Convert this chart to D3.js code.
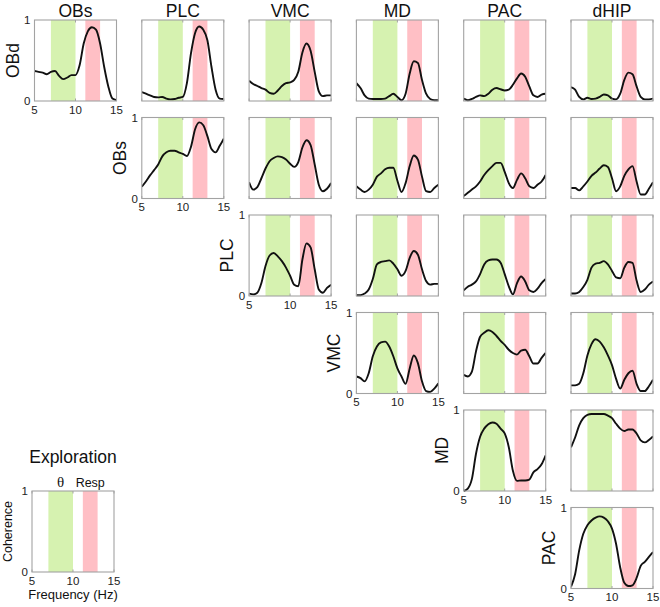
<!DOCTYPE html>
<html>
<head>
<meta charset="utf-8">
<script src="https://cdn.jsdelivr.net/npm/d3@7"></script>
<style>
  html, body { margin: 0; padding: 0; background: #fff; }
  svg { display: block; font-family: "Liberation Sans", Arial, sans-serif; }
</style>
</head>
<body>
<svg id="chart" width="660" height="607"></svg>
<script>
// ---------- data ----------
const colNames = ["OBs", "PLC", "VMC", "MD", "PAC", "dHIP"];
const rowNames = ["OBd", "OBs", "PLC", "VMC", "MD", "PAC"];
const freqs = [5, 5.5, 6, 6.5, 7, 7.5, 8, 8.5, 9, 9.5, 10, 10.5, 11, 11.5, 12, 12.5, 13, 13.5, 14, 14.5, 15];
const xTicks = [5, 10, 15];
const yTicks = [0, 1];
const thetaBand = [7, 10];
const respBand = [11.2, 13];

// coherence curves, row_column
const OBd_OBs  = [0.37,0.36,0.35,0.33,0.36,0.37,0.31,0.27,0.29,0.32,0.32,0.44,0.71,0.86,0.91,0.88,0.71,0.42,0.18,0.03,0.01];
const OBd_PLC  = [0.11,0.09,0.07,0.05,0.045,0.05,0.03,0.02,0.025,0.04,0.05,0.22,0.59,0.84,0.92,0.88,0.75,0.42,0.14,0.03,0.025];
const OBd_VMC  = [0.25,0.21,0.185,0.16,0.14,0.10,0.09,0.13,0.185,0.22,0.23,0.26,0.36,0.60,0.71,0.62,0.36,0.12,0.06,0.07,0.07];
const OBd_MD   = [0.22,0.16,0.07,0.03,0.025,0.025,0.025,0.03,0.06,0.09,0.05,0.01,0.09,0.34,0.49,0.47,0.26,0.09,0.025,0.01,0.01];
const OBd_PAC  = [0.03,0.01,0.025,0.05,0.07,0.06,0.09,0.14,0.16,0.145,0.13,0.14,0.20,0.28,0.34,0.30,0.18,0.07,0.05,0.08,0.09];
const OBd_dHIP = [0.17,0.14,0.05,0.02,0.04,0.025,0.03,0.05,0.08,0.07,0.03,0.02,0.09,0.26,0.35,0.33,0.18,0.05,0.02,0.02,0.03];

const OBs_PLC  = [0.145,0.21,0.285,0.35,0.42,0.52,0.57,0.59,0.59,0.57,0.55,0.525,0.64,0.855,0.94,0.905,0.77,0.61,0.57,0.65,0.74];
const OBs_VMC  = [0.20,0.11,0.14,0.25,0.37,0.46,0.50,0.52,0.51,0.48,0.43,0.39,0.45,0.63,0.72,0.66,0.42,0.17,0.09,0.12,0.19];
const OBs_MD   = [0.15,0.11,0.08,0.11,0.17,0.27,0.31,0.36,0.38,0.38,0.22,0.08,0.19,0.40,0.53,0.48,0.27,0.09,0.08,0.13,0.17];
const OBs_PAC  = [0.03,0.07,0.11,0.15,0.21,0.29,0.35,0.40,0.44,0.44,0.33,0.19,0.13,0.23,0.31,0.25,0.15,0.13,0.17,0.21,0.29];
const OBs_dHIP = [0.13,0.13,0.10,0.15,0.21,0.28,0.32,0.37,0.41,0.39,0.25,0.09,0.15,0.28,0.36,0.40,0.21,0.05,0.05,0.12,0.20];

const PLC_VMC  = [0.03,0.02,0.04,0.16,0.37,0.50,0.53,0.49,0.43,0.35,0.25,0.14,0.12,0.45,0.65,0.60,0.33,0.08,0.04,0.10,0.14];
const PLC_MD   = [0.01,0.01,0.03,0.08,0.21,0.39,0.42,0.43,0.44,0.40,0.33,0.25,0.31,0.47,0.555,0.51,0.33,0.185,0.14,0.15,0.15];
const PLC_PAC  = [0.07,0.115,0.14,0.18,0.27,0.39,0.44,0.45,0.45,0.41,0.27,0.12,0.02,0.16,0.24,0.18,0.07,0.05,0.09,0.16,0.21];
const PLC_dHIP = [0.03,0.03,0.05,0.11,0.20,0.35,0.40,0.41,0.43,0.39,0.31,0.23,0.22,0.35,0.42,0.41,0.19,0.05,0.08,0.14,0.18];

const VMC_MD   = [0.21,0.19,0.15,0.25,0.46,0.58,0.63,0.64,0.58,0.46,0.31,0.21,0.12,0.31,0.47,0.375,0.15,0.03,0.02,0.06,0.125];
const VMC_PAC  = [0.23,0.21,0.27,0.52,0.70,0.75,0.78,0.76,0.71,0.65,0.60,0.54,0.50,0.48,0.53,0.54,0.46,0.37,0.37,0.44,0.50];
const VMC_dHIP = [0.10,0.10,0.12,0.25,0.47,0.61,0.67,0.64,0.57,0.47,0.35,0.18,0.06,0.17,0.25,0.28,0.12,0.03,0.03,0.09,0.17];

const MD_PAC   = [0.00,0.03,0.15,0.46,0.67,0.77,0.825,0.846,0.83,0.77,0.71,0.54,0.25,0.125,0.13,0.13,0.14,0.23,0.27,0.33,0.44];
const MD_dHIP  = [0.54,0.66,0.81,0.90,0.94,0.95,0.95,0.95,0.95,0.93,0.90,0.83,0.77,0.74,0.76,0.76,0.71,0.625,0.60,0.63,0.675];

const PAC_dHIP = [0.02,0.175,0.47,0.675,0.78,0.84,0.875,0.89,0.875,0.83,0.74,0.55,0.26,0.07,0.03,0.04,0.13,0.28,0.33,0.39,0.45];

const curves = {
  OBd: [OBd_OBs, OBd_PLC, OBd_VMC, OBd_MD, OBd_PAC, OBd_dHIP],
  OBs: [null, OBs_PLC, OBs_VMC, OBs_MD, OBs_PAC, OBs_dHIP],
  PLC: [null, null, PLC_VMC, PLC_MD, PLC_PAC, PLC_dHIP],
  VMC: [null, null, null, VMC_MD, VMC_PAC, VMC_dHIP],
  MD:  [null, null, null, null, MD_PAC, MD_dHIP],
  PAC: [null, null, null, null, null, PAC_dHIP]
};

// ---------- layout ----------
const W = 82, H = 81;
const colX = d3.scalePoint().domain(colNames).range([34.5, 571]);
const rowY = d3.scalePoint().domain(rowNames).range([20, 507.5]);
const GREEN = "#d6f2b0", PINK = "#ffbfc5", BORDER = "#a3a3a3";
const FONT = '"Liberation Sans", Arial, sans-serif';

const svg = d3.select("#chart");
let clipId = 0;

function panel(left, top, data, showTicks) {
  const x = d3.scaleLinear().domain([5, 15]).range([left, left + W]);
  const y = d3.scaleLinear().domain([0, 1]).range([top + H, top]);
  const g = svg.append("g");
  g.append("rect").attr("x", left).attr("y", top).attr("width", W).attr("height", H).attr("fill", "#fff");
  g.append("rect").attr("x", x(thetaBand[0])).attr("y", top)
    .attr("width", x(thetaBand[1]) - x(thetaBand[0])).attr("height", H).attr("fill", GREEN);
  g.append("rect").attr("x", x(respBand[0])).attr("y", top)
    .attr("width", x(respBand[1]) - x(respBand[0])).attr("height", H).attr("fill", PINK);
  if (data) {
    const id = "clip" + (clipId++);
    svg.append("clipPath").attr("id", id).append("rect")
      .attr("x", left).attr("y", top - 1).attr("width", W).attr("height", H + 2);
    const line = d3.line().x((d, i) => x(freqs[i])).y(d => y(d)).curve(d3.curveMonotoneX);
    g.append("path").datum(data).attr("d", line).attr("clip-path", `url(#${id})`)
      .attr("fill", "none").attr("stroke", "#111").attr("stroke-width", 1.9)
      .attr("stroke-linejoin", "round");
  }
  // inward tick marks
  xTicks.forEach(t => {
    g.append("line").attr("x1", x(t)).attr("x2", x(t)).attr("y1", top + H).attr("y2", top + H - 2.5)
      .attr("stroke", BORDER).attr("stroke-width", 1);
    g.append("line").attr("x1", x(t)).attr("x2", x(t)).attr("y1", top).attr("y2", top + 2.5)
      .attr("stroke", BORDER).attr("stroke-width", 1);
  });
  g.append("rect").attr("x", left).attr("y", top).attr("width", W).attr("height", H)
    .attr("fill", "none").attr("stroke", BORDER).attr("stroke-width", 1.1);
  if (showTicks) {
    g.selectAll(".xt").data(xTicks).enter().append("text")
      .attr("x", d => x(d)).attr("y", top + H + 12.5)
      .attr("text-anchor", "middle").attr("font-size", 11.5).attr("fill", "#222").text(d => d);
    g.selectAll(".yt").data(yTicks).enter().append("text")
      .attr("x", left - 4).attr("y", d => y(d) + 4)
      .attr("text-anchor", "end").attr("font-size", 11.5).attr("fill", "#222").text(d => d);
  }
  return { x, y };
}

// column titles
colNames.forEach(c => {
  svg.append("text").attr("x", colX(c) + W / 2).attr("y", 16.5)
    .attr("text-anchor", "middle").attr("font-size", 17.5).attr("fill", "#111").text(c);
});

// panels
rowNames.forEach((r, ri) => {
  colNames.forEach((c, ci) => {
    if (ci < ri) return;
    panel(colX(c), rowY(r), curves[r][ci], ci === ri);
  });
  const lx = colX(colNames[ri]) - 16, ly = rowY(r) + H / 2;
  svg.append("text").attr("transform", `translate(${lx},${ly}) rotate(-90)`)
    .attr("text-anchor", "middle").attr("font-size", 17.5).attr("fill", "#111").text(r);
});

// legend panel
const legLeft = 32, legTop = 491;
const lg = panel(legLeft, legTop, null, true);
svg.append("text").attr("x", legLeft + W / 2).attr("y", 463)
  .attr("text-anchor", "middle").attr("font-size", 17.5).attr("fill", "#111").text("Exploration");
svg.append("text").attr("x", lg.x((thetaBand[0] + thetaBand[1]) / 2)).attr("y", 487)
  .attr("text-anchor", "middle").attr("font-size", 15).attr("font-family", '"Liberation Serif", "Times New Roman", serif')
  .attr("fill", "#111").text("θ");
svg.append("text").attr("x", lg.x((respBand[0] + respBand[1]) / 2)).attr("y", 487)
  .attr("text-anchor", "middle").attr("font-size", 12.5).attr("fill", "#111").text("Resp");
svg.append("text").attr("transform", `translate(12,${legTop + H / 2}) rotate(-90)`)
  .attr("text-anchor", "middle").attr("font-size", 12.5).attr("fill", "#111").text("Coherence");
svg.append("text").attr("x", legLeft + W / 2).attr("y", 599)
  .attr("text-anchor", "middle").attr("font-size", 13).attr("fill", "#111").text("Frequency (Hz)");
</script>
</body>
</html>
